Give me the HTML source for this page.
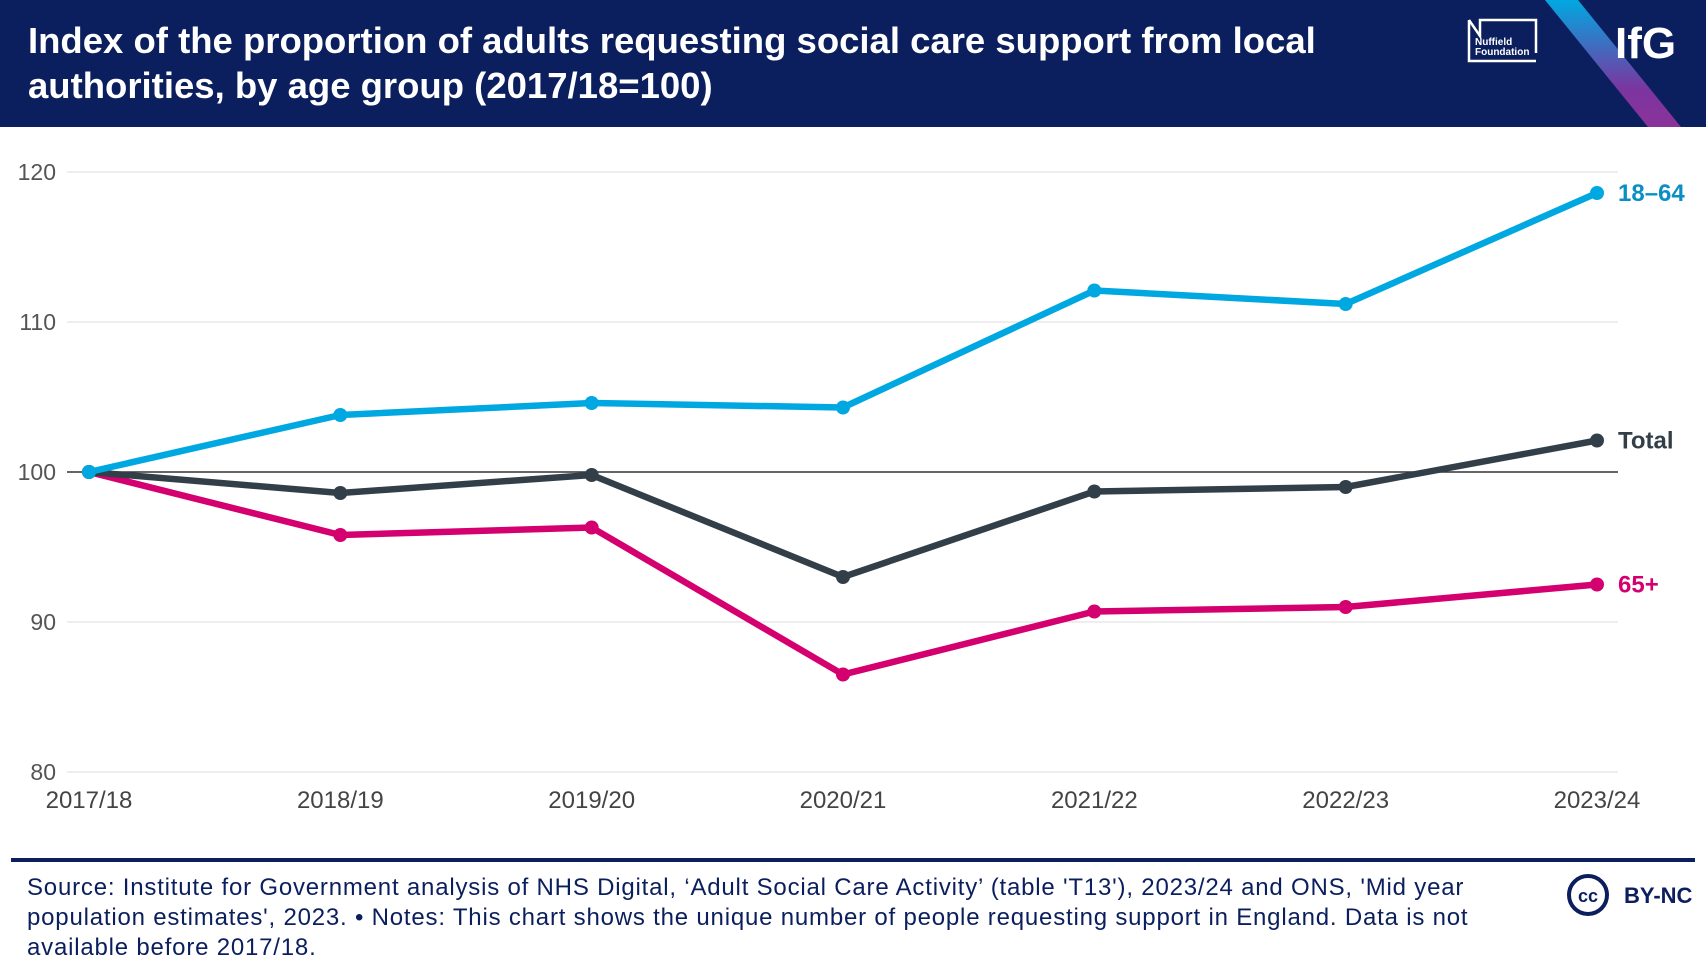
<!DOCTYPE html>
<html><head><meta charset="utf-8"><style>
body{margin:0;width:1706px;height:978px;background:#fff;font-family:"Liberation Sans",sans-serif;overflow:hidden;position:relative}
#hdr{position:absolute;left:0;top:0;width:1706px;height:127px;background:#0b1f5e}
#title{position:absolute;left:28px;top:18px;color:#fff;font-weight:bold;font-size:36.5px;line-height:45px;letter-spacing:0px;white-space:nowrap}
#src{position:absolute;left:27px;top:873px;width:1500px;color:#0b1f5e;font-size:24px;line-height:30px;letter-spacing:0.8px;white-space:nowrap}
</style></head><body>
<div id="hdr">
<div id="title">Index of the proportion of adults requesting social care support from local<br>authorities, by age group (2017/18=100)</div>
<svg width="1706" height="127" style="position:absolute;left:0;top:0">
<defs><linearGradient id="g" x1="0" y1="0" x2="0" y2="1"><stop offset="0" stop-color="#00a8e1"/><stop offset="0.7" stop-color="#7b35a0"/><stop offset="1" stop-color="#8a3399"/></linearGradient></defs>
<polygon points="1545,0 1578,0 1681,127 1648,127" fill="url(#g)"/>
<path d="M1469,20 L1469,61 L1536,61 M1469,20 L1480,36 L1480,20 L1536,20 L1536,53" stroke="#fff" stroke-width="2.5" fill="none"/>
<text x="1475" y="45" fill="#fff" font-size="10" font-weight="bold">Nuffield</text>
<text x="1475" y="55" fill="#fff" font-size="10" font-weight="bold">Foundation</text>
<text x="1615" y="58" fill="#fff" font-size="44" font-weight="bold">IfG</text>
</svg>
</div>
<svg id="chart" width="1706" height="860" style="position:absolute;left:0;top:0"></svg>
<div style="position:absolute;left:11px;top:858px;width:1684px;height:4px;background:#0b1f5e"></div>
<div id="src">Source: Institute for Government analysis of NHS Digital, ‘Adult Social Care Activity’ (table 'T13'), 2023/24 and ONS, 'Mid year<br>population estimates', 2023. • Notes: This chart shows the unique number of people requesting support in England. Data is not<br>available before 2017/18.</div>
<svg width="130" height="50" style="position:absolute;left:1565px;top:872px">
<circle cx="23" cy="23" r="19" fill="none" stroke="#0b1f5e" stroke-width="4"/>
<text x="23" y="30" text-anchor="middle" font-size="18" font-weight="bold" fill="#0b1f5e">cc</text>
<text x="59" y="31" font-size="22" font-weight="bold" fill="#0b1f5e">BY-NC</text>
</svg>
<script>
const categories=["2017/18","2018/19","2019/20","2020/21","2021/22","2022/23","2023/24"];
const s1864=[100,103.8,104.6,104.3,112.1,111.2,118.6];
const sTotal=[100,98.6,99.8,93.0,98.7,99.0,102.1];
const s65=[100,95.8,96.3,86.5,90.7,91.0,92.5];
const yTicks=[80,90,100,110,120];
const svg=document.getElementById('chart');
const NS='http://www.w3.org/2000/svg';
const X=i=>89+i*(1597-89)/(categories.length-1);
const Y=v=>772-(v-80)*(772-172)/40;
function mk(t,a){const e=document.createElementNS(NS,t);for(const k in a)e.setAttribute(k,a[k]);svg.appendChild(e);return e;}
yTicks.forEach(v=>{
 const l=mk('line',{x1:67,x2:1618,y1:Y(v),y2:Y(v),stroke:v===100?'#333':'#e8e8e8','stroke-width':1.5});
 
 
 const t=mk('text',{x:56,y:Y(v)+8,'text-anchor':'end','font-size':23,fill:'#555'});t.textContent=v;
 
 
});
categories.forEach((c,i)=>{
 const t=mk('text',{x:X(i),y:808,'text-anchor':'middle','font-size':24,fill:'#444'});t.textContent=c;
 
 
});
const series=[[s65,'#d4006f','65+','series-65-plus'],[sTotal,'#333f48','Total','series-total'],[s1864,'#00a8e1','18–64','series-18-64']];
series.forEach(([d,col,lab,name])=>{
 const p=mk('polyline',{points:d.map((v,i)=>X(i)+','+Y(v)).join(' '),fill:'none',stroke:col,'stroke-width':6.5,'stroke-linejoin':'round'});
 
 
 d.forEach((v,i)=>{const c=mk('circle',{cx:X(i),cy:Y(v),r:7,fill:col});
  
  });
 const t=mk('text',{x:1618,y:Y(d[d.length-1])+8,'font-size':24,'font-weight':'bold',fill:col==='#00a8e1'?'#0a8fc4':col});t.textContent=lab;
 
 
});
</script>
</body></html>
